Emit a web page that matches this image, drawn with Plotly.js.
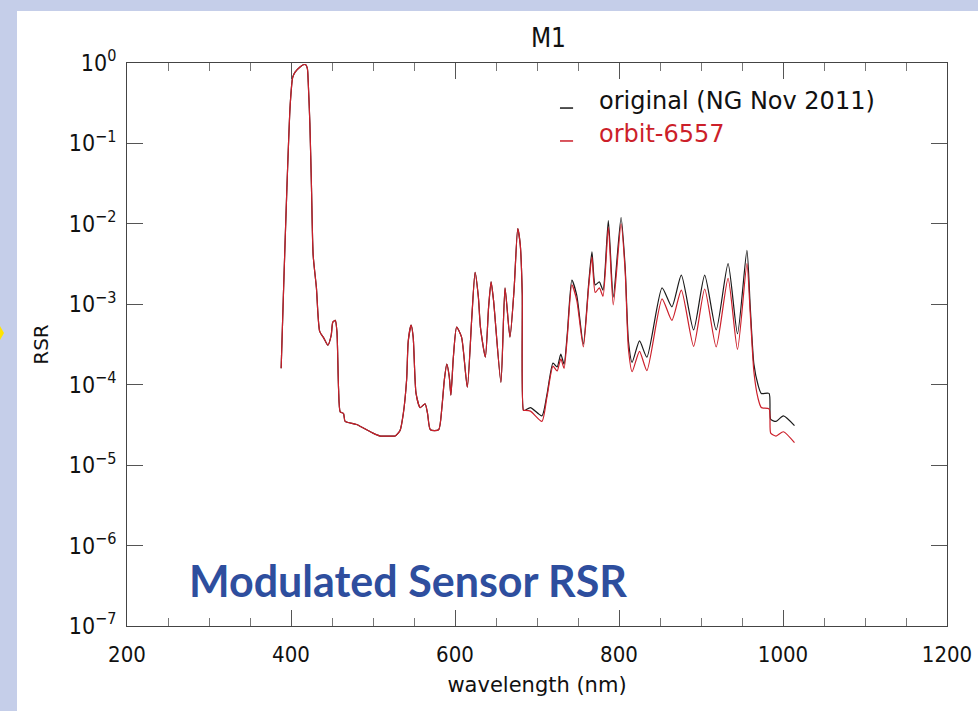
<!DOCTYPE html>
<html>
<head>
<meta charset="utf-8">
<script src="https://cdn.plot.ly/plotly-3.0.1.min.js"></script>
<style>
  html, body { margin: 0; padding: 0; width: 978px; height: 711px; overflow: hidden; background: #c5cee9; }
  #chart { position: absolute; left: 17px; top: 11px; width: 961px; height: 700px; background: #ffffff; }
  #mark { position: absolute; left: 0; top: 326px; width: 0; height: 0;
          border-top: 7px solid transparent; border-bottom: 7px solid transparent; border-left: 4px solid #ffe400; }
</style>
</head>
<body>
<div id="mark"></div>
<div id="chart"></div>
<script>
// Shared part of both curves (identical below ~686 nm)
const wlShared = [388, 391, 395, 399, 402, 405, 411, 415, 418, 420, 421, 423, 425, 427, 431, 435, 440, 445, 449, 451,
  454, 456, 458, 460, 464, 466, 480, 500, 509, 521, 527, 533, 537, 541, 543, 546.5, 549, 552.5, 557.5, 563.5,
  566.5, 570, 580, 584, 587, 590, 593, 595, 598, 602, 608, 615, 620.5, 624.5, 628.5, 631, 637, 641, 644, 647,
  656, 661, 667, 672, 676.5, 679.5, 682, 683.5, 685.5];
const rsrShared = [1.6e-4, 1.6e-3, 2.8e-2, 0.30, 0.66, 0.77, 0.89, 0.95, 0.95, 0.85, 0.58, 0.18, 2.8e-2, 4.1e-3, 1.6e-3, 4.6e-4, 3.8e-4, 3.1e-4, 4.1e-4, 6.0e-4,
  6.3e-4, 4.6e-4, 8.9e-5, 4.6e-5, 4.4e-5, 3.5e-5, 3.2e-5, 2.5e-5, 2.3e-5, 2.3e-5, 2.3e-5, 2.7e-5, 4.4e-5, 1.15e-4, 3.5e-4, 5.5e-4, 3.9e-4, 7.8e-5, 5.2e-5, 5.8e-5,
  4.4e-5, 2.75e-5, 2.75e-5, 5.2e-5, 1.15e-4, 1.8e-4, 1.26e-4, 7.4e-5, 2.2e-4, 5.2e-4, 3.9e-4, 9.3e-5, 6.9e-4, 2.5e-3, 1.23e-3, 5.2e-4, 2.2e-4, 9.3e-4, 1.9e-3, 1.12e-3,
  1.07e-4, 1.6e-3, 3.9e-4, 1.5e-3, 8.7e-3, 5.6e-3, 1.35e-3, 4.8e-5, 4.8e-5];

// Part where the two curves separate
const wlTail = [692, 706, 712, 719.5, 724.5, 729, 733, 737, 742.5, 748.5, 756.5, 763, 767, 771, 776, 780.5, 787, 793, 802.5, 807.5,
  811.5, 816, 825, 834, 852.5, 864.5, 876, 891, 904.5, 918.5, 933, 944.5, 956, 960, 964.5, 969.5, 973.5, 983, 985, 991.5, 1000.5, 1014];
const rsrOriginalTail = [5.2e-5, 4.1e-5, 7.4e-5, 1.86e-4, 1.66e-4, 2.4e-4, 1.8e-4, 4.4e-4, 2.0e-3, 1.29e-3, 3.2e-4, 1.8e-3, 4.5e-3, 1.74e-3, 1.9e-3, 1.5e-3, 1.1e-2, 1.23e-3, 1.2e-2, 2.9e-3,
  3.5e-4, 1.9e-4, 3.5e-4, 2.2e-4, 1.6e-3, 9.3e-4, 2.3e-3, 4.8e-4, 2.3e-3, 4.8e-4, 3.2e-3, 4.3e-4, 4.7e-3, 9.5e-4, 1.8e-4, 1.0e-4, 7.8e-5, 7.8e-5, 3.7e-5, 3.5e-5, 4.1e-5, 3.1e-5];
const rsrOrbitTail = [4.7e-5, 3.5e-5, 6.9e-5, 1.7e-4, 1.48e-4, 2.1e-4, 1.6e-4, 4.0e-4, 1.74e-3, 1.12e-3, 2.95e-4, 1.66e-3, 3.9e-3, 1.4e-3, 1.6e-3, 1.26e-3, 9.1e-3, 9.8e-4, 1.0e-2, 2.6e-3,
  2.8e-4, 1.45e-4, 2.6e-4, 1.5e-4, 1.17e-3, 6.3e-4, 1.5e-3, 3.0e-4, 1.55e-3, 2.95e-4, 2.1e-3, 2.75e-4, 3.2e-3, 7.9e-4, 1.45e-4, 6.8e-5, 5.2e-5, 5.0e-5, 2.5e-5, 2.3e-5, 2.6e-5, 1.9e-5];

const seriesNames = ['original (NG Nov 2011)', 'orbit-6557'];
const xTickVals = [200, 400, 600, 800, 1000, 1200];
const yTickVals = [1e-7, 1e-6, 1e-5, 1e-4, 1e-3, 1e-2, 1e-1, 1];
const yTickText = ['10<sup>−7</sup>', '10<sup>−6</sup>', '10<sup>−5</sup>', '10<sup>−4</sup>', '10<sup>−3</sup>', '10<sup>−2</sup>', '10<sup>−1</sup>', '10<sup>0</sup>'];

const wl = wlShared.concat(wlTail);
const rsrOriginal = rsrShared.concat(rsrOriginalTail);
const rsrOrbit = rsrShared.concat(rsrOrbitTail);

const NARROW = '"Liberation Sans Narrow", "DejaVu Sans Condensed", "Liberation Sans", sans-serif';
const WIDE = '"DejaVu Sans", "Liberation Sans", sans-serif';
const BLACK = '#1a1a1a';
const RED = '#cc1f2a';

const traces = [
  { x: wl, y: rsrOriginal, name: seriesNames[0], type: 'scatter', mode: 'lines',
    line: { color: BLACK, width: 1.2, shape: 'spline', smoothing: 0.6 }, showlegend: false },
  { x: wl, y: rsrOrbit, name: seriesNames[1], type: 'scatter', mode: 'lines',
    line: { color: RED, width: 1.2, shape: 'spline', smoothing: 0.6 }, showlegend: false }
];

const axisCommon = {
  showgrid: false, zeroline: false, showline: true, linecolor: '#444', linewidth: 1,
  mirror: 'ticks', ticks: 'inside', tickcolor: '#555', tickwidth: 1
};

const layout = {
  width: 961, height: 700,
  margin: { l: 110, r: 31, t: 52, b: 85 },
  paper_bgcolor: '#ffffff', plot_bgcolor: '#ffffff',
  title: { text: 'M1', font: { family: NARROW, size: 26, color: '#111' },
           x: 0.514, xref: 'paper', xanchor: 'center', y: 0.962, yref: 'container', yanchor: 'middle' },
  xaxis: Object.assign({}, axisCommon, {
    range: [200, 1200], tickvals: xTickVals, ticklen: 16, ticklabelstandoff: 9,
    tickfont: { family: NARROW, size: 22, color: '#111' },
    minor: { dtick: 50, ticks: 'inside', ticklen: 8, tickcolor: '#777', tickwidth: 1 },
    title: { text: 'wavelength (nm)', font: { family: WIDE, size: 21, color: '#111' }, standoff: 10 }
  }),
  yaxis: Object.assign({}, axisCommon, {
    type: 'log', range: [-7, 0], tickvals: yTickVals, ticktext: yTickText, ticklen: 16, ticklabelstandoff: 5,
    tickfont: { family: NARROW, size: 23, color: '#111' },
    title: { text: 'RSR', font: { family: WIDE, size: 20, color: '#111' }, standoff: 14 }
  }),
  shapes: [
    { type: 'line', xref: 'paper', yref: 'paper', x0: 0.528, x1: 0.544, y0: 0.920, y1: 0.920, line: { color: BLACK, width: 1.5 } },
    { type: 'line', xref: 'paper', yref: 'paper', x0: 0.528, x1: 0.544, y0: 0.8615, y1: 0.8615, line: { color: RED, width: 1.5 } }
  ],
  annotations: [
    { text: seriesNames[0], xref: 'paper', yref: 'paper', x: 0.573, y: 0.9325, xanchor: 'left', yanchor: 'middle',
      showarrow: false, font: { family: WIDE, size: 24, color: '#111' } },
    { text: seriesNames[1], xref: 'paper', yref: 'paper', x: 0.573, y: 0.874, xanchor: 'left', yanchor: 'middle',
      showarrow: false, font: { family: WIDE, size: 24, color: RED } },
    { text: '<b>Modulated Sensor RSR</b>', xref: 'paper', yref: 'paper', x: 0.0732, y: 0.080, xanchor: 'left', yanchor: 'middle',
      showarrow: false, font: { family: 'Lato, "Open Sans", sans-serif', size: 43, color: '#2e4e9e' } }
  ]
};

Plotly.newPlot('chart', traces, layout, { staticPlot: true, displayModeBar: false });
</script>
</body>
</html>
